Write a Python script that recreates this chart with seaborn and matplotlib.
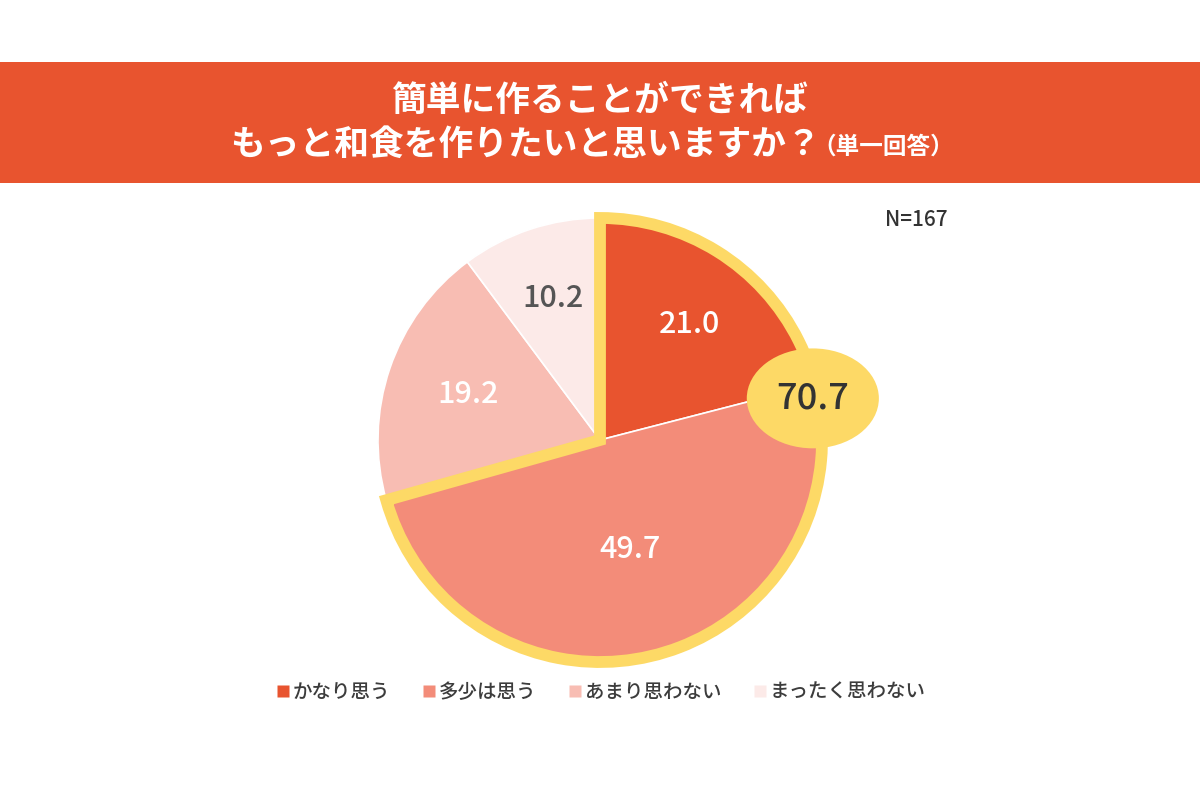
import matplotlib
matplotlib.use("Agg")
import matplotlib.pyplot as plt
from matplotlib.patches import Wedge, Ellipse, Rectangle
from matplotlib.lines import Line2D
import numpy as np
import seaborn as sns

# data
labels = ["かなり思う", "多少は思う", "あまり思わない", "まったく思わない"]
values = [21.0, 49.7, 19.2, 10.2]
colors = ["#E8542F", "#F38C79", "#F8BDB3", "#FCEAE8"]
text_colors = ["white", "white", "white", "#555555"]
label_dist = [0.66, 0.51, 0.63, 0.67]
highlight_n = 2  # first two slices are summed and outlined
n_total = 167

title_1 = "簡単に作ることができれば"
title_2 = "もっと和食を作りたいと思いますか？"
title_note = "（単一回答）"

sns.set_theme(style="white")
plt.rcParams["font.family"] = ["Noto Sans CJK JP", "DejaVu Sans"]

YELLOW = "#FDD966"
BANNER = "#E8542F"

fig = plt.figure(figsize=(12, 8), dpi=100)
fig.patch.set_facecolor("white")

# title banner
fig.patches.append(Rectangle((0, 0.771), 1, 0.152, transform=fig.transFigure,
                             facecolor=BANNER, edgecolor="none", zorder=0))
fig.text(0.5, 0.874, title_1, ha="center", va="center", color="white",
         fontsize=25, fontweight="bold")
fig.text(0.192, 0.819, title_2, ha="left", va="center", color="white",
         fontsize=25, fontweight="bold")
fig.text(0.677, 0.817, title_note, ha="left", va="center", color="white",
         fontsize=17, fontweight="bold")

# pie
ax = fig.add_axes([0.3, 0.15, 0.4, 0.6])
wedges, _ = ax.pie(values, colors=colors, startangle=90, counterclock=False,
                   radius=1, wedgeprops=dict(edgecolor="white", linewidth=1.2))
ax.set_xlim(-1.081, 1.081)
ax.set_ylim(-1.081, 1.081)
ax.set_aspect("equal")
ax.axis("off")

# value labels at the middle angle of each slice
for w, v, c, d in zip(wedges, values, text_colors, label_dist):
    mid = np.deg2rad((w.theta1 + w.theta2) / 2)
    ax.text(d * np.cos(mid), d * np.sin(mid), f"{v:.1f}", ha="center",
            va="center", color=c, fontsize=22, fontweight="medium")

# yellow outline round the first two slices
hl_sum = sum(values[:highlight_n])
theta_end = 90
theta_start = 90 - 360 * hl_sum / sum(values)
outline = Wedge((0, 0), 1.0, theta_start, theta_end, facecolor="none",
                edgecolor=YELLOW, linewidth=8.5, joinstyle="miter", zorder=5)
ax.add_patch(outline)

# total badge on the boundary
edge_ang = np.deg2rad(wedges[0].theta1)
bx, by = 0.99 * np.cos(edge_ang), 0.99 * np.sin(edge_ang) - 0.06
ax.add_patch(Ellipse((bx, by), 0.595, 0.45, facecolor=YELLOW, edgecolor="none",
                     zorder=6, clip_on=False))
ax.text(bx, by, f"{hl_sum:.1f}", ha="center", va="center", color="#333333",
        fontsize=26, fontweight="medium", zorder=7)

# N
fig.text(0.79, 0.725, f"N={n_total}", ha="right", va="center", color="#333333",
         fontsize=15, fontweight="medium")

# legend
handles = [Line2D([0], [0], marker="s", linestyle="none", markersize=8,
                  markerfacecolor=c, markeredgecolor="none") for c in colors]
fig.legend(handles, labels, loc="center", bbox_to_anchor=(0.5, 0.135), ncol=4,
           frameon=False, handletextpad=0.05, columnspacing=1.55,
           handlelength=0.9, labelcolor="#3C3C3C", prop={"weight": "medium", "size": 14})

fig.savefig("out.png", dpi=100, facecolor="white")
